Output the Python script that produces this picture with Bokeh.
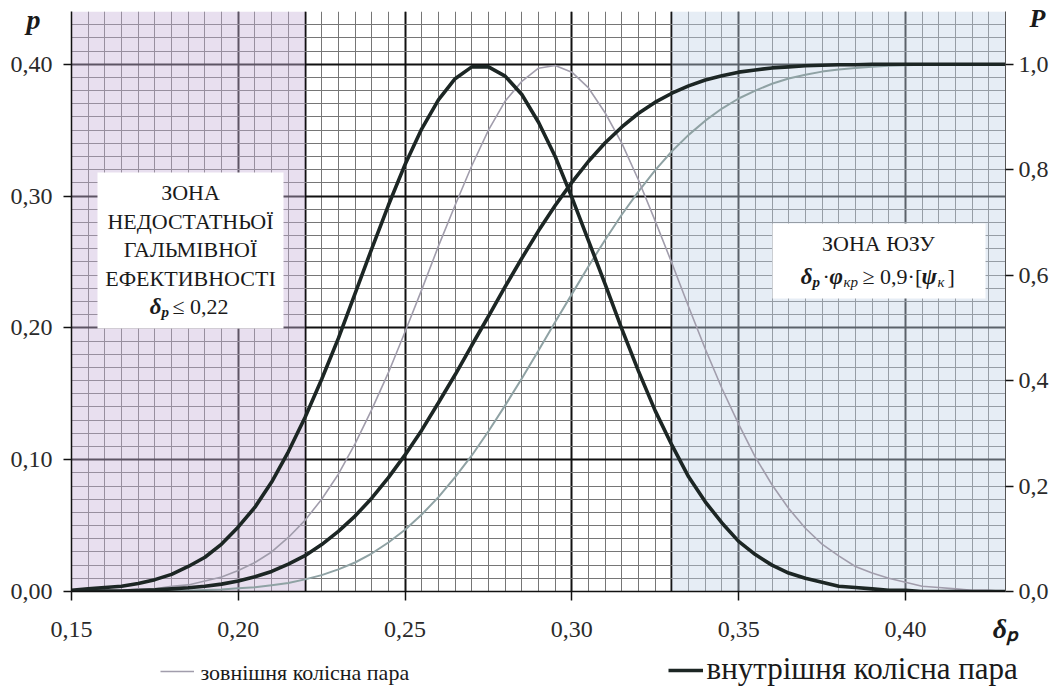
from bokeh.plotting import figure
from bokeh.layouts import column
from bokeh.models import (Range1d, LinearAxis, FixedTicker, BoxAnnotation, Label,
                          Legend, LegendItem)
from bokeh.embed import file_html
from bokeh.resources import INLINE

# ---------------- data ----------------
delta_p = [0.150, 0.155, 0.160, 0.165, 0.170, 0.175, 0.180, 0.185, 0.190, 0.195,
           0.200, 0.205, 0.210, 0.215, 0.220, 0.225, 0.230, 0.235, 0.240, 0.245,
           0.250, 0.255, 0.260, 0.265, 0.270, 0.275, 0.280, 0.285, 0.290, 0.295,
           0.300, 0.305, 0.310, 0.315, 0.320, 0.325, 0.330, 0.335, 0.340, 0.345,
           0.350, 0.355, 0.360, 0.365, 0.370, 0.375, 0.380, 0.385, 0.390, 0.395,
           0.400, 0.405, 0.410, 0.415, 0.420, 0.425, 0.430]

# inner wheel pair (thick black) - density p
p_inner = [0.001, 0.002, 0.003, 0.004, 0.006, 0.009, 0.013, 0.019, 0.026, 0.036,
           0.049, 0.064, 0.083, 0.106, 0.132, 0.161, 0.192, 0.226, 0.260, 0.293,
           0.324, 0.351, 0.373, 0.389, 0.398, 0.398, 0.391, 0.377, 0.356, 0.330,
           0.299, 0.266, 0.233, 0.199, 0.167, 0.137, 0.111, 0.087, 0.068, 0.052,
           0.038, 0.028, 0.020, 0.014, 0.010, 0.007, 0.004, 0.003, 0.002, 0.001,
           0.001, 0.000, 0.000, 0.000, 0.000, 0.000, 0.000]
# inner wheel pair - cumulative P (right axis)
P_inner = [0.000, 0.001, 0.001, 0.001, 0.002, 0.003, 0.005, 0.007, 0.010, 0.014,
           0.020, 0.028, 0.038, 0.052, 0.068, 0.089, 0.114, 0.143, 0.177, 0.216,
           0.259, 0.306, 0.358, 0.411, 0.467, 0.522, 0.578, 0.632, 0.684, 0.732,
           0.776, 0.816, 0.851, 0.881, 0.907, 0.928, 0.945, 0.959, 0.970, 0.978,
           0.985, 0.989, 0.993, 0.995, 0.997, 0.998, 0.999, 0.999, 1.000, 1.000,
           1.000, 1.000, 1.000, 1.000, 1.000, 1.000, 1.000]
# outer wheel pair (thin grey) - density p
p_outer = [0.000, 0.000, 0.001, 0.001, 0.002, 0.002, 0.004, 0.005, 0.008, 0.011,
           0.016, 0.022, 0.030, 0.041, 0.054, 0.070, 0.089, 0.112, 0.138, 0.166,
           0.197, 0.229, 0.262, 0.293, 0.323, 0.350, 0.372, 0.387, 0.397, 0.399,
           0.394, 0.382, 0.363, 0.340, 0.312, 0.281, 0.249, 0.216, 0.184, 0.154,
           0.127, 0.102, 0.081, 0.063, 0.048, 0.036, 0.027, 0.019, 0.014, 0.010,
           0.007, 0.004, 0.003, 0.002, 0.001, 0.001, 0.000]
# outer wheel pair - cumulative P (right axis)
P_outer = [0.000, 0.000, 0.000, 0.000, 0.000, 0.001, 0.001, 0.002, 0.003, 0.004,
           0.006, 0.008, 0.012, 0.016, 0.023, 0.031, 0.042, 0.055, 0.072, 0.093,
           0.117, 0.146, 0.179, 0.217, 0.258, 0.304, 0.353, 0.404, 0.457, 0.511,
           0.564, 0.617, 0.667, 0.715, 0.759, 0.799, 0.835, 0.866, 0.893, 0.916,
           0.935, 0.950, 0.963, 0.973, 0.980, 0.986, 0.990, 0.993, 0.995, 0.997,
           0.998, 0.999, 1.000, 1.000, 1.000, 1.000, 1.000]

zone_low = 0.22     # insufficient braking efficiency: delta_p <= 0.22
zone_high = 0.33    # anti-skid zone

x_ticks = [0.15, 0.20, 0.25, 0.30, 0.35, 0.40]
x_tick_labels = ["0,15", "0,20", "0,25", "0,30", "0,35", "0,40"]
y_ticks = [0.0, 0.1, 0.2, 0.3, 0.4]
y_tick_labels = ["0,00", "0,10", "0,20", "0,30", "0,40"]
P_ticks = [0.0, 0.2, 0.4, 0.6, 0.8, 1.0]
P_tick_labels = ["0,0", "0,2", "0,4", "0,6", "0,8", "1,0"]

legend_outer = "зовнішня колісна пара"
legend_inner = "внутрішня колісна пара"

# ---------------- styles ----------------
FONT = "Liberation Serif"
X0, X1, Y0, Y1 = 0.15, 0.43, 0.0, 0.44
THICK = dict(line_color="#1c2624", line_width=3.6)
THIN_PDF = dict(line_color="#a19dac", line_width=1.6)
THIN_CDF = dict(line_color="#8fa2a4", line_width=2)

P_HEIGHT = 650
p = figure(width=1060, height=P_HEIGHT, output_backend="svg", toolbar_location=None,
           x_range=Range1d(X0, X1), y_range=Range1d(Y0, Y1),
           min_border_left=71, min_border_right=55, min_border_top=11,
           min_border_bottom=P_HEIGHT - 591, background_fill_color="white",
           border_fill_color="white")
p.outline_line_color = None
p.extra_y_ranges = {"P": Range1d(0, 1.1)}

# grids
minor_x = [round(0.15 + 0.005 * i, 3) for i in range(57)]
minor_y = [round(0.01 * i, 2) for i in range(45)]
p.xgrid.ticker = FixedTicker(ticks=[0.20, zone_low, 0.25, 0.30, zone_high, 0.35, 0.40],
                             minor_ticks=minor_x)
p.ygrid.ticker = FixedTicker(ticks=[0.1, 0.2, 0.3, 0.4], minor_ticks=minor_y)
for g in (p.xgrid, p.ygrid):
    g.grid_line_color = "#111111"
    g.grid_line_width = 2
    g.minor_grid_line_color = "#767676"
    g.minor_grid_line_width = 1

# axes
def style_axis(ax, ticks, labels, standoff, tick_out):
    ax.ticker = FixedTicker(ticks=ticks, minor_ticks=[])
    ax.major_label_overrides = {t: l for t, l in zip(ticks, labels)}
    ax.major_label_text_font = FONT
    ax.major_label_text_font_size = "24px"
    ax.major_label_text_color = "#2a2a2a"
    ax.major_label_standoff = standoff
    ax.major_tick_out = tick_out
    ax.major_tick_in = 0
    ax.minor_tick_out = 0
    ax.minor_tick_in = 0
    ax.major_tick_line_color = "#111111"
    ax.major_tick_line_width = 1.5
    ax.axis_line_color = "#111111"
    ax.axis_line_width = 1.5
    ax.axis_label_text_font = FONT
    ax.axis_label_text_font_style = "bold italic"
    ax.axis_label_text_color = "#1a1a1a"
    ax.axis_label_orientation = "horizontal"
    ax.axis_label_align = "end"

xax = p.xaxis[0]
yax = p.yaxis[0]
style_axis(xax, x_ticks, x_tick_labels, 21, 9)
style_axis(yax, y_ticks, y_tick_labels, 11, 8)
rax = LinearAxis(y_range_name="P")
style_axis(rax, P_ticks, P_tick_labels, 5, 8)
rax.axis_line_color = "#555555"
rax.axis_line_width = 1
p.add_layout(rax, "right")

# axis titles (leading empty line pushes the letter below the top end)
yax.axis_label = "\np"
yax.axis_label_text_font_size = "28px"
yax.axis_label_text_line_height = 0.5
yax.axis_label_standoff = -33
rax.axis_label = "\nP"
rax.axis_label_text_font_size = "26px"
rax.axis_label_text_line_height = 0.5
rax.axis_label_standoff = -22
xax.axis_label = "δₚ"
xax.axis_label_text_font_size = "28px"
xax.axis_label_standoff = -27

# shaded zones (drawn over grid so the grid gets tinted)
p.add_layout(BoxAnnotation(left=X0, right=zone_low, fill_color="#c7b3d8", fill_alpha=0.42,
                           line_alpha=0, level="underlay"))
p.add_layout(BoxAnnotation(left=zone_high, right=X1, fill_color="#c3d3e8", fill_alpha=0.42,
                           line_alpha=0, level="underlay"))

# helpers to place text by picture pixel position
FX0, FX1, FY0, FY1 = 71, 1005, 591, 11
def dx(px):
    return X0 + (px - FX0) / (FX1 - FX0) * (X1 - X0)
def dy(py):
    return Y0 + (FY0 - py) / (FY0 - FY1) * (Y1 - Y0)

# white text boxes
p.add_layout(BoxAnnotation(left=dx(97), right=dx(283), top=dy(172), bottom=dy(328),
                           fill_color="white", fill_alpha=1, line_alpha=0, level="underlay"))
p.add_layout(BoxAnnotation(left=dx(772), right=dx(985), top=dy(223), bottom=dy(298),
                           fill_color="white", fill_alpha=1, line_alpha=0, level="underlay"))

# curves
p.line(delta_p, P_outer, y_range_name="P", **THIN_CDF)
p.line(delta_p, p_outer, **THIN_PDF)
p.line(delta_p, P_inner, y_range_name="P", **THICK)
p.line(delta_p, p_inner, **THICK)

def lab(px, py, text, size, style="normal", align="center", color="#1a1a1a"):
    p.add_layout(Label(x=dx(px), y=dy(py), text=text, text_font=FONT,
                       text_font_size=f"{size}px", text_font_style=style,
                       text_align=align, text_baseline="middle", text_color=color))

# left zone text
lab(190, 192, "ЗОНА", 22)
lab(190, 220.5, "НЕДОСТАТНЬОЇ", 22)
lab(190, 249, "ГАЛЬМІВНОЇ", 22)
lab(190, 277.5, "ЕФЕКТИВНОСТІ", 22)
lab(161, 306, "δ", 23, "bold italic", "right")
lab(161, 311, "p", 15, "bold italic", "left")
lab(172, 306, "≤ 0,22", 22, "normal", "left")

# right zone text
lab(878, 243, "ЗОНА ЮЗУ", 22)
lab(812, 276, "δ", 23, "bold italic", "right")
lab(812, 281, "p", 15, "bold italic", "left")
lab(822, 276, "·", 22, "normal", "left")
lab(829, 276, "φ", 23, "bold italic", "left")
lab(843, 281, "кр", 15, "italic", "left")
lab(862, 276, "≥ 0,9·[", 22, "normal", "left")
lab(921, 276, "ψ", 23, "bold italic", "left")
lab(937, 281, "к", 15, "italic", "left")
lab(947, 276, "]", 22, "normal", "left")

# ---------------- legend strip below the chart ----------------
Q_HEIGHT = 688 - P_HEIGHT
q = figure(width=1060, height=Q_HEIGHT, output_backend="svg", toolbar_location=None,
           x_range=Range1d(0, 1), y_range=Range1d(10, 11),
           x_axis_location=None, y_axis_location=None,
           min_border_left=0, min_border_right=0, min_border_top=0, min_border_bottom=0,
           background_fill_color="white", border_fill_color="white")
q.outline_line_color = None
q.xgrid.visible = False
q.ygrid.visible = False
QL = 71
for fig in (p, q):
    try:
        fig.frame_align = False
        QL = 0
    except Exception:
        pass
# same series drawn out of view: only their legend samples show
k_outer = q.line(delta_p, p_outer, **THIN_PDF)
k_inner = q.line(delta_p, p_inner, **THICK)

# legend keys (line samples); the texts are serif labels next to them
legA = Legend(items=[LegendItem(label=" ", renderers=[k_outer])],
              location=(160 - QL, 6), glyph_width=34, glyph_height=22, label_standoff=0)
legB = Legend(items=[LegendItem(label=" ", renderers=[k_inner])],
              location=(668 - QL, 6), glyph_width=35, glyph_height=24, label_standoff=0)
for lg in (legA, legB):
    lg.orientation = "horizontal"
    lg.padding = 0
    lg.margin = 0
    lg.spacing = 0
    lg.border_line_alpha = 0
    lg.background_fill_alpha = 0
    lg.label_text_font_size = "2px"
    lg.label_width = 1
    lg.label_height = 1
    q.add_layout(lg)

q.add_layout(Label(x=200 - QL, y=16, x_units="screen", y_units="screen",
                   text=legend_outer, text_font=FONT, text_font_size="22px",
                   text_align="left", text_baseline="middle", text_color="#1a1a1a"))
q.add_layout(Label(x=706 - QL, y=20, x_units="screen", y_units="screen",
                   text=legend_inner, text_font=FONT, text_font_size="31px",
                   text_align="left", text_baseline="middle", text_color="#1a1a1a"))

layout = column(p, q, spacing=0)
open("out.html", "w").write(file_html(layout, INLINE))
